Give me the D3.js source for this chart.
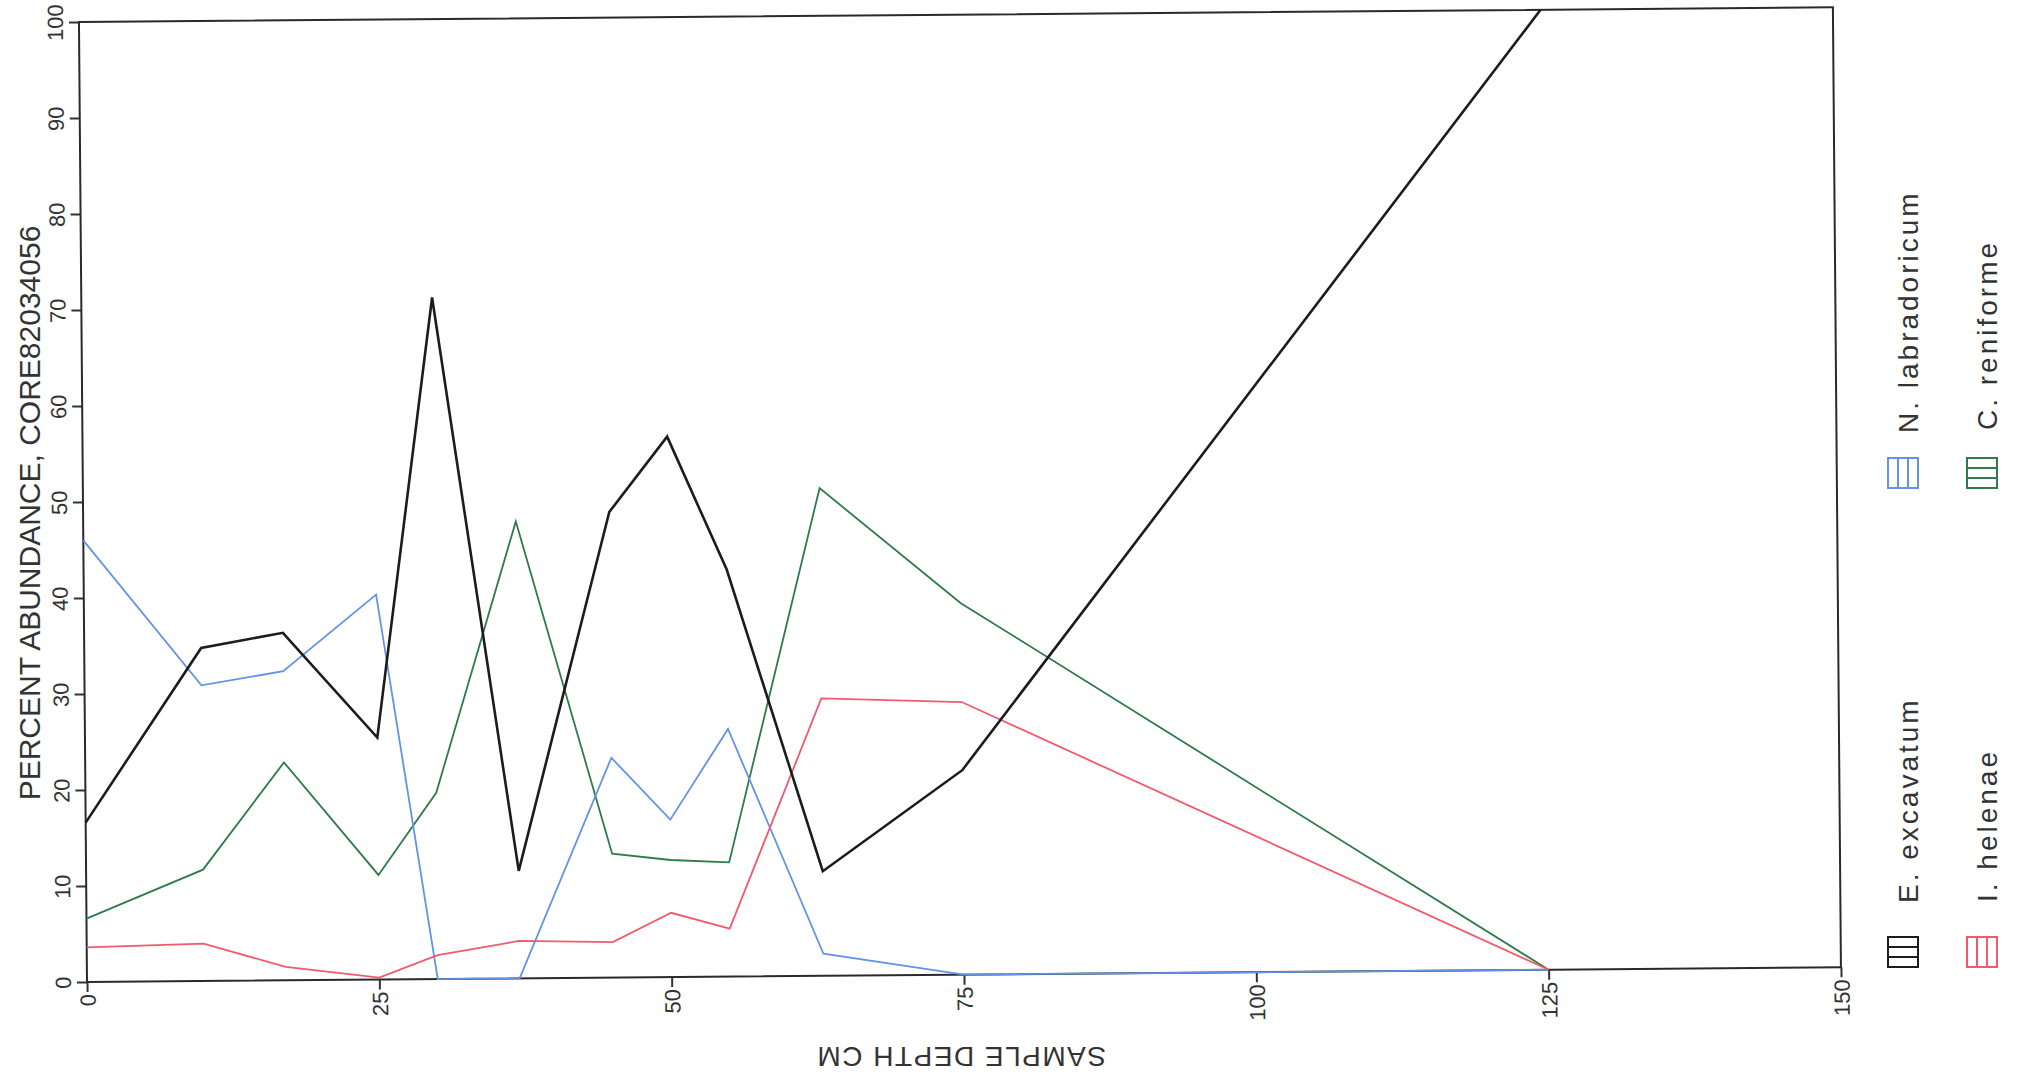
<!DOCTYPE html>
<html lang="en">
<head>
  <meta charset="UTF-8" />
  <title>Percent abundance, core 82034056</title>
  <style>
    body {
      margin: 0;
      background: white;
    }
    svg {
      display: block;
      font-family: "Liberation Sans", "Helvetica Neue", Arial, sans-serif;
    }
    .tick text {
      font-size: 22px;
      fill: #333;
    }
    .tick line {
      stroke: #333;
      stroke-width: 2px;
    }
    .series {
      fill: none;
      stroke-linejoin: miter;
    }
    .legend-label {
      font-size: 28px;
      fill: #333;
      letter-spacing: 3px;
    }
  </style>
</head>
<body>
  <svg></svg>

  <script src="https://d3js.org/d3.v7.min.js"></script>
  <script>
    // sample depths (cm) and percent abundance per species
    const depth = [0, 10, 17, 25, 30, 37, 45, 50, 55, 63, 75, 125];
    const excavatum = [16.6, 34.7, 36.2, 25.2, 71.0, 11.2, 48.5, 56.3, 42.4, 10.9, 21.3, 100];
    const labradoricum = [46.0, 30.8, 32.2, 40.1, 0, 0, 22.9, 16.4, 25.8, 2.3, 0, 0];
    const reniforme = [6.6, 11.6, 22.7, 10.9, 19.4, 47.6, 12.9, 12.2, 11.9, 50.8, 38.7, 0];
    const helenae = [3.6, 3.9, 1.4, 0.2, 2.5, 3.9, 3.7, 6.7, 5.0, 28.9, 28.4, 0];

    const xTicks = [0, 25, 50, 75, 100, 125, 150];
    const yTicks = [0, 10, 20, 30, 40, 50, 60, 70, 80, 90, 100];

    const series = [
      { name: "E. excavatum", values: excavatum, color: "#1c1c1c", width: 2.6, hatch: "h" },
      { name: "I. helenae", values: helenae, color: "#f25a6c", width: 1.8, hatch: "v" },
      { name: "N. labradoricum", values: labradoricum, color: "#6393e6", width: 1.8, hatch: "v" },
      { name: "C. reniforme", values: reniforme, color: "#2f7b4c", width: 1.8, hatch: "h" }
    ];

    const width = 2022;
    const height = 1082;
    const plotLeft = 87, plotRight = 1841, plotTop = 22, plotBottom = 982;
    const tilt = -0.48; // the original sheet sits slightly askew

    const svg = d3.select("svg")
      .attr("width", width)
      .attr("height", height)
      .attr("viewBox", [0, 0, width, height]);

    svg.append("rect")
      .attr("width", width)
      .attr("height", height)
      .attr("fill", "white");

    const x = d3.scaleLinear().domain([0, 150]).range([plotLeft, plotRight]);
    const y = d3.scaleLinear().domain([0, 100]).range([plotBottom, plotTop]);

    const plot = svg.append("g")
      .attr("transform", `rotate(${tilt}, ${plotLeft}, ${plotBottom})`);

    // y axis
    plot.append("g")
      .attr("transform", `translate(${plotLeft},0)`)
      .call(d3.axisLeft(y).tickValues(yTicks).tickSize(10).tickSizeOuter(0))
      .call(g => g.select(".domain").remove())
      .call(g => g.selectAll(".tick text")
        .attr("x", null)
        .attr("dy", null)
        .attr("text-anchor", "middle")
        .attr("transform", "translate(-16,0) rotate(-90)"));

    // x axis
    plot.append("g")
      .attr("transform", `translate(0,${plotBottom})`)
      .call(d3.axisBottom(x).tickValues(xTicks).tickSize(10).tickSizeOuter(0))
      .call(g => g.select(".domain").remove())
      .call(g => g.selectAll(".tick text")
        .attr("y", null)
        .attr("dy", null)
        .attr("text-anchor", "end")
        .attr("transform", "translate(8,12) rotate(-90)"));

    // frame
    plot.append("rect")
      .attr("x", plotLeft)
      .attr("y", plotTop)
      .attr("width", plotRight - plotLeft)
      .attr("height", plotBottom - plotTop)
      .attr("fill", "none")
      .attr("stroke", "#2a2a2a")
      .attr("stroke-width", 2);

    const line = d3.line()
      .x((d, i) => x(depth[i]))
      .y(d => y(d));

    plot.append("g")
      .selectAll("path")
      .data(series.slice().reverse())
      .join("path")
        .attr("class", "series")
        .attr("d", d => line(d.values))
        .attr("stroke", d => d.color)
        .attr("stroke-width", d => d.width);

    // axis titles
    svg.append("text")
      .text("PERCENT ABUNDANCE, CORE82034056")
      .attr("text-anchor", "middle")
      .attr("transform", "translate(40,513) rotate(-90)")
      .attr("font-size", 30)
      .attr("fill", "#333");

    svg.append("text")
      .text("SAMPLE DEPTH CM")
      .attr("text-anchor", "middle")
      .attr("transform", "translate(961,1047) rotate(180)")
      .attr("font-size", 28)
      .attr("letter-spacing", 1.5)
      .attr("fill", "#333");

    // legend: two columns, rotated like the rest of the sheet text
    const legendPos = [
      { bx: 1918, swY: 937, textY: 903 },
      { bx: 1997, swY: 937, textY: 902 },
      { bx: 1918, swY: 458, textY: 433 },
      { bx: 1997, swY: 458, textY: 430 }
    ];
    const sw = 30;

    const legend = svg.append("g")
      .selectAll("g")
      .data(series)
      .join("g");

    legend.append("rect")
      .attr("x", (d, i) => legendPos[i].bx - sw)
      .attr("y", (d, i) => legendPos[i].swY)
      .attr("width", sw)
      .attr("height", sw)
      .attr("fill", "none")
      .attr("stroke", d => d.color)
      .attr("stroke-width", 2);

    legend.each(function(d, i) {
      const p = legendPos[i];
      const g = d3.select(this);
      [1, 2].forEach(k => {
        const off = sw * k / 3;
        if (d.hatch === "h") {
          g.append("line")
            .attr("x1", p.bx - sw).attr("x2", p.bx)
            .attr("y1", p.swY + off).attr("y2", p.swY + off);
        } else {
          g.append("line")
            .attr("x1", p.bx - sw + off).attr("x2", p.bx - sw + off)
            .attr("y1", p.swY).attr("y2", p.swY + sw);
        }
      });
      g.selectAll("line")
        .attr("stroke", d.color)
        .attr("stroke-width", 2);
    });

    legend.append("text")
      .attr("class", "legend-label")
      .text(d => d.name)
      .attr("transform", (d, i) => `translate(${legendPos[i].bx},${legendPos[i].textY}) rotate(-90)`);
  </script>
</body>
</html>
